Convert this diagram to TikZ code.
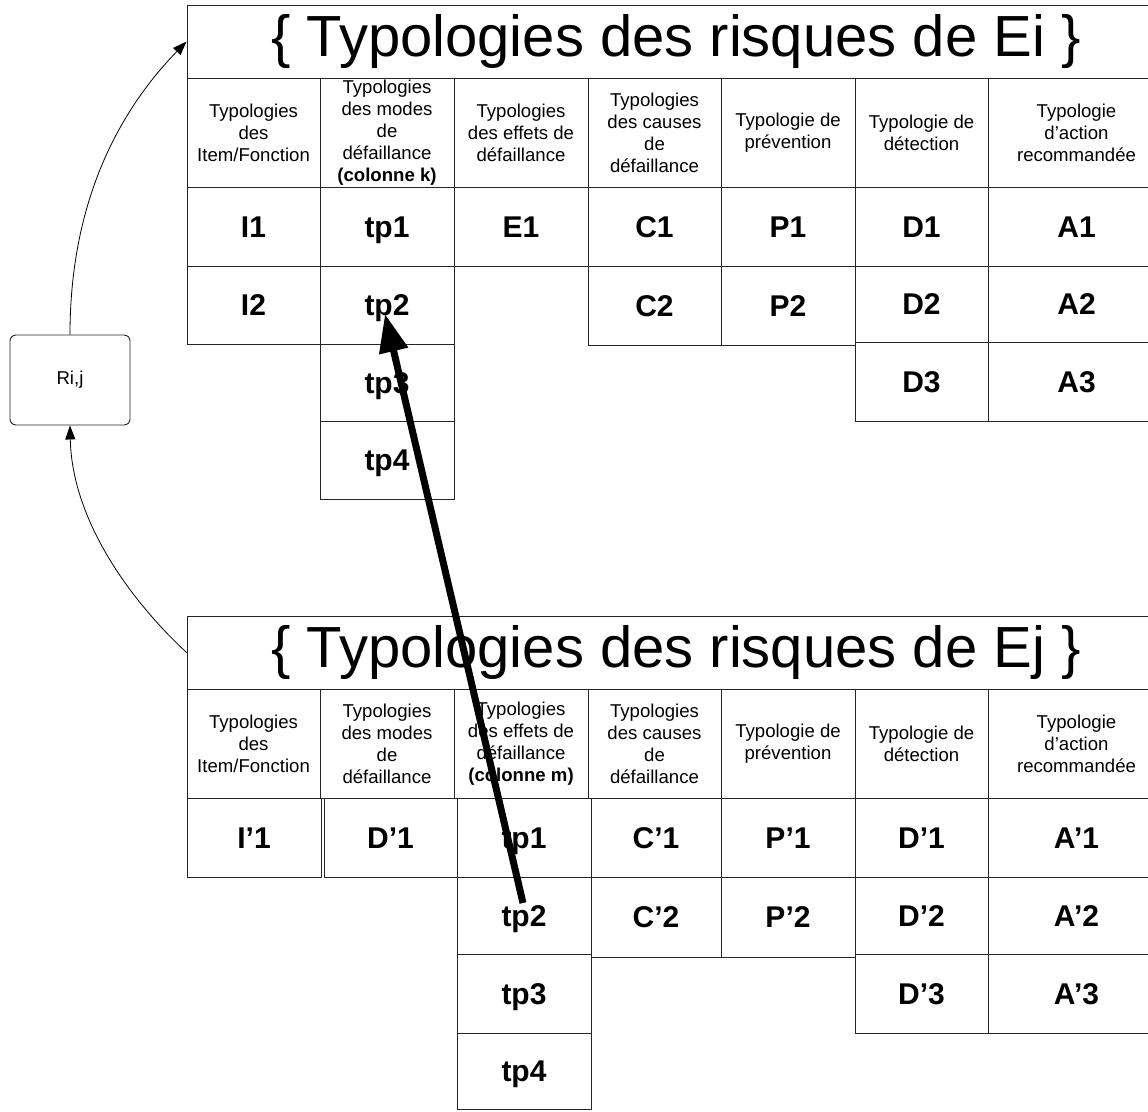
\documentclass[tikz,border=0pt]{standalone}
\usepackage{fontspec}
\setmainfont{Liberation Sans}
\usetikzlibrary{arrows.meta}
\newcommand\hdrfont{\fontsize{18.6}{22}\selectfont}
\newcommand\valfont{\fontsize{30}{34}\selectfont\bfseries}
\newcommand\ttlfont{\fontsize{58}{64}\selectfont}
\tikzset{
  cell/.style={draw=black!85, line width=0.9pt, inner sep=0pt, align=center, font=\valfont},
  val/.style={text height=21.5pt, text depth=0pt},
  hdr/.style={font=\hdrfont},
  ttl/.style={font=\ttlfont},
  riskbox/.style={draw=black!85, line width=0.9pt, rounded corners=6pt, font=\hdrfont, inner sep=0pt},
  thinarrow/.style={line width=0.8pt, -{Triangle[length=14pt,width=10pt]}},
  thickarrow/.style={line width=7pt, -{Triangle[length=38pt,width=28pt]}}
}
\newcommand\tcell[7][val]{\node[cell,#1,minimum width={(#5-#3)*1pt},minimum height={(#6-#4)*1pt}] (#2) at ({(#3+#5)/2},{(#4+#6)/2}) {#7};}
\begin{document}
\begin{tikzpicture}[x=1pt,y=-1pt]
\path[use as bounding box] (0,0) rectangle (1148,1111);
\clip (0,0) rectangle (1148,1111);
% ---------- top table ----------
\tcell[ttl]{ti}{187}{5}{1165}{78}{\{ Typologies des risques de Ei \}}
\tcell[hdr]{th1}{187}{78}{320}{187}{Typologies\\des\\Item/Fonction}
\tcell[hdr]{th2}{320}{78}{454}{187}{Typologies\\des modes\\de\\défaillance\\\textbf{(colonne k)}}
\tcell[hdr]{th3}{454}{78}{588}{187}{Typologies\\des effets de\\défaillance}
\tcell[hdr]{th4}{588}{78}{721}{187}{Typologies\\des causes\\de\\défaillance}
\tcell[hdr]{th5}{721}{78}{855}{187}{Typologie de\\prévention}
\tcell[hdr]{th6}{855}{78}{988}{187}{Typologie de\\détection}
\tcell[hdr]{th7}{988}{78}{1165}{187}{Typologie\\d’action\\recommandée}
\tcell{ti1}{187}{187}{320}{266}{I1}
\tcell{ttp1}{320}{187}{454}{266}{tp1}
\tcell{te1}{454}{187}{588}{266}{E1}
\tcell{tc1}{588}{187}{721}{266}{C1}
\tcell{tp1}{721}{187}{855}{266}{P1}
\tcell{td1}{855}{187}{988}{266}{D1}
\tcell{ta1}{988}{187}{1165}{266}{A1}
\tcell{ti2}{187}{266}{320}{344}{I2}
\tcell{ttp2}{320}{266}{454}{344}{tp2}
\tcell{tc2}{588}{266}{721}{345}{C2}
\tcell{tp2}{721}{266}{855}{345}{P2}
\tcell{td2}{855}{266}{988}{342}{D2}
\tcell{ta2}{988}{266}{1165}{342}{A2}
\tcell{ttp3}{320}{344}{454}{421}{tp3}
\tcell{td3}{855}{342}{988}{421}{D3}
\tcell{ta3}{988}{342}{1165}{421}{A3}
\tcell{ttp4}{320}{421}{454}{499}{tp4}
% ---------- bottom table ----------
\tcell[ttl]{bti}{187}{616}{1165}{689}{\{ Typologies des risques de Ej \}}
\tcell[hdr]{bh1}{187}{689}{320}{798}{Typologies\\des\\Item/Fonction}
\tcell[hdr]{bh2}{320}{689}{454}{798}{Typologies\\des modes\\de\\défaillance}
\tcell[hdr]{bh3}{454}{689}{588}{798}{Typologies\\des effets de\\défaillance\\\textbf{(colonne m)}}
\tcell[hdr]{bh4}{588}{689}{721}{798}{Typologies\\des causes\\de\\défaillance}
\tcell[hdr]{bh5}{721}{689}{855}{798}{Typologie de\\prévention}
\tcell[hdr]{bh6}{855}{689}{988}{798}{Typologie de\\détection}
\tcell[hdr]{bh7}{988}{689}{1165}{798}{Typologie\\d’action\\recommandée}
\tcell{bi1}{187}{798}{321}{877}{I’1}
\tcell{bm1}{324}{798}{457}{877}{D’1}
\tcell{btp1}{457}{798}{591}{877}{tp1}
\tcell{bc1}{591}{798}{721}{877}{C’1}
\tcell{bp1}{721}{798}{855}{877}{P’1}
\tcell{bd1}{855}{798}{988}{877}{D’1}
\tcell{ba1}{988}{798}{1165}{877}{A’1}
\tcell{btp2}{457}{877}{591}{954}{tp2}
\tcell{bc2}{591}{877}{721}{957}{C’2}
\tcell{bp2}{721}{877}{855}{957}{P’2}
\tcell{bd2}{855}{877}{988}{954}{D’2}
\tcell{ba2}{988}{877}{1165}{954}{A’2}
\tcell{btp3}{457}{954}{591}{1033}{tp3}
\tcell{bd3}{855}{954}{988}{1033}{D’3}
\tcell{ba3}{988}{954}{1165}{1033}{A’3}
\tcell{btp4}{457}{1033}{591}{1109}{tp4}
% ---------- Ri,j ----------
\node[riskbox, minimum width=120pt, minimum height=90pt] (rij) at (70,380) {Ri,j};
% ---------- connectors ----------
\draw[thinarrow] (rij.north) .. controls (70,200) and (120,110) .. (ti.west);
\draw[thinarrow] (bti.west) .. controls (130,600) and (72,520) .. (rij.south);
\coordinate (arrstart) at (523,903);
\coordinate (arrend) at (385,314);
\draw[thickarrow] (arrstart) -- (arrend);
\end{tikzpicture}
\end{document}
